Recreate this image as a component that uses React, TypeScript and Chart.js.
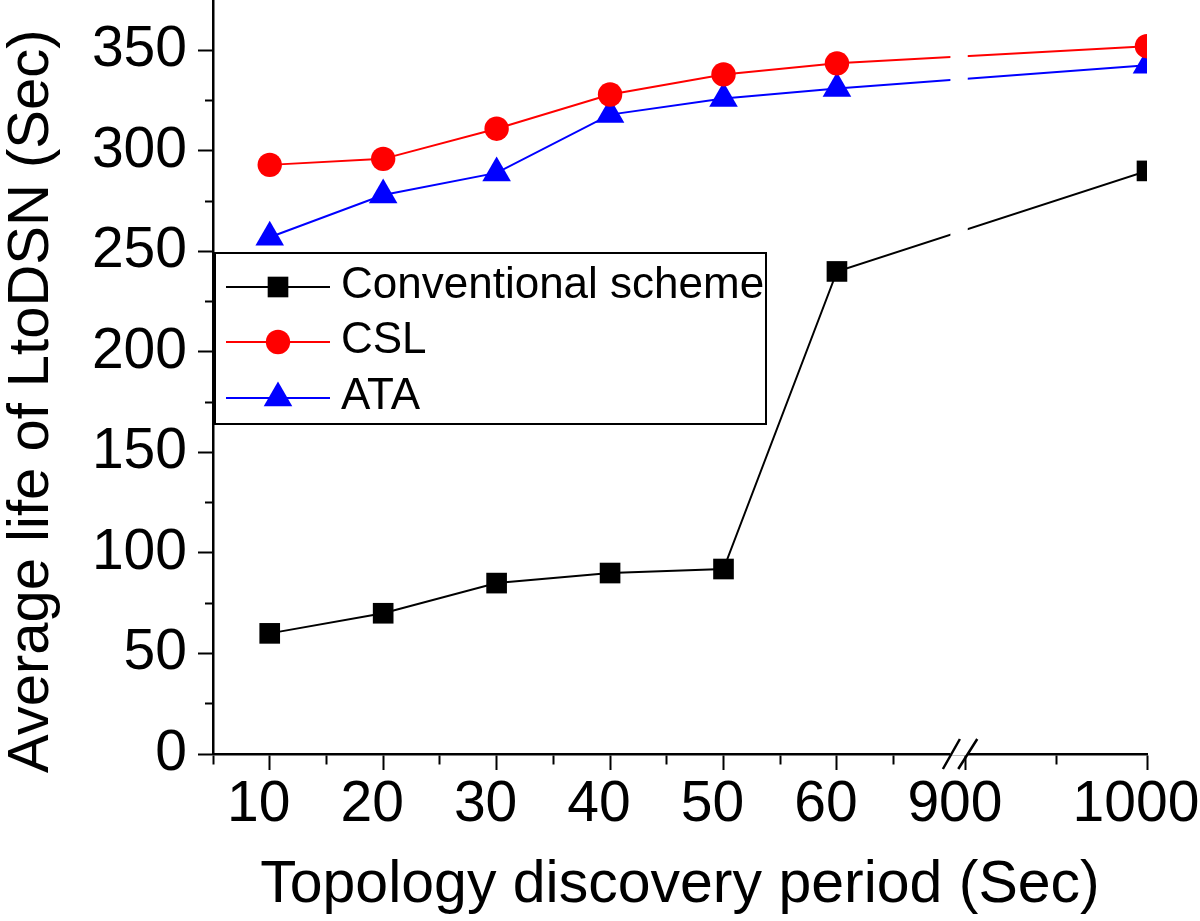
import React, { useEffect, useRef } from "react";
import { Chart, registerables } from "chart.js";

Chart.register(...registerables);

// ---------- data ----------
const periods = [10, 20, 30, 40, 50, 60, 1000];
const conventional = [60, 70, 85, 90, 92, 240, 290];
const csl = [293, 296, 311, 328, 338, 343.5, 352];
const ata = [257, 278, 289, 318, 326, 331, 342.5];
const seriesNames = ["Conventional scheme", "CSL", "ATA"];

const xMajorTicks = [10, 20, 30, 40, 50, 60, 900, 1000];
const xMinorTicks = [5, 15, 25, 35, 45, 55, 65, 950];
const yMajorTicks = [0, 50, 100, 150, 200, 250, 300, 350];
const yMinorTicks = [25, 75, 125, 175, 225, 275, 325];

const xTitle = "Topology discovery period (Sec)";
const yTitle = "Average life of LtoDSN (Sec)";

// ---------- broken x axis transform ----------
const X_MIN_VALUE = 5;
const X_MAX_VALUE = 1000;
const BREAK_LOW = 70;
const BREAK_HIGH = 901;
function brk(v: number): number {
  if (v <= BREAK_LOW) return (v - 10) / 10 + 1;
  return 7.137 + (v - 900) * 0.01596;
}

const FONT = "'Liberation Sans', Arial, Helvetica, sans-serif";

function xLabel(p: number): string {
  const m = xMajorTicks.find((t) => Math.abs(brk(t) - p) < 1e-6);
  return m === undefined ? "" : String(m);
}
function isXMajor(p: number): boolean {
  return xMajorTicks.some((t) => Math.abs(brk(t) - p) < 1e-6);
}

const breakPlugin = {
  id: "axisBreak",
  afterDatasetsDraw(chart: any) {
    const { ctx, chartArea, scales } = chart;
    const xs = scales.x;
    const bx1 = xs.getPixelForValue(brk(BREAK_LOW));
    const bx2 = xs.getPixelForValue(brk(BREAK_HIGH));
    const yb = chartArea.bottom;
    ctx.save();
    ctx.fillStyle = "#ffffff";
    ctx.fillRect(bx1, chartArea.top, bx2 - bx1, yb - chartArea.top + 1.5);
    ctx.strokeStyle = "#000000";
    ctx.lineWidth = 2.5;
    ctx.beginPath();
    ctx.moveTo(bx1 + 1 - 8.5, yb + 15);
    ctx.lineTo(bx1 + 1 + 8.5, yb - 15);
    ctx.moveTo(bx2 - 9.5, yb + 15);
    ctx.lineTo(bx2 + 9.5, yb - 15);
    ctx.stroke();
    ctx.restore();
  },
};

function drawMarker(ctx: CanvasRenderingContext2D, style: string, r: number, x: number, y: number) {
  ctx.beginPath();
  if (style === "rect") {
    const s = Math.SQRT1_2 * r;
    ctx.rect(x - s, y - s, 2 * s, 2 * s);
  } else if (style === "circle") {
    ctx.arc(x, y, r, 0, Math.PI * 2);
  } else {
    let rad = 0;
    ctx.moveTo(x + Math.sin(rad) * r, y - Math.cos(rad) * r);
    rad += (2 * Math.PI) / 3;
    ctx.lineTo(x + Math.sin(rad) * r, y - Math.cos(rad) * r);
    rad += (2 * Math.PI) / 3;
    ctx.lineTo(x + Math.sin(rad) * r, y - Math.cos(rad) * r);
    ctx.closePath();
  }
  ctx.fill();
}

const legendPlugin = {
  id: "boxLegend",
  afterDraw(chart: any) {
    const { ctx, chartArea } = chart;
    const left = chartArea.left + 2;
    const top = 253;
    const width = 551;
    const height = 171;
    const rows = [287, 342, 398];
    ctx.save();
    ctx.fillStyle = "#ffffff";
    ctx.fillRect(left, top, width, height);
    ctx.strokeStyle = "#000000";
    ctx.lineWidth = 2;
    ctx.strokeRect(left, top, width, height);
    chart.data.datasets.forEach((ds: any, i: number) => {
      const y = rows[i];
      ctx.strokeStyle = ds.borderColor;
      ctx.lineWidth = 2;
      ctx.beginPath();
      ctx.moveTo(left + 11, y);
      ctx.lineTo(left + 115, y);
      ctx.stroke();
      ctx.fillStyle = ds.pointBackgroundColor;
      drawMarker(ctx, ds.pointStyle, ds.pointRadius, left + 63, y);
      ctx.fillStyle = "#000000";
      ctx.font = `44px ${FONT}`;
      ctx.textBaseline = "middle";
      ctx.textAlign = "left";
      ctx.fillText(ds.label, left + 126, y - 1);
    });
    ctx.restore();
  },
};

export default function App() {
  const ref = useRef<HTMLCanvasElement | null>(null);

  useEffect(() => {
    if (!ref.current) return;
    const mk = (vals: number[]) => periods.map((p, i) => ({ x: brk(p), y: vals[i] }));
    const chart = new Chart(ref.current, {
      type: "line",
      data: {
        datasets: [
          {
            label: seriesNames[0],
            data: mk(conventional),
            borderColor: "#000000",
            backgroundColor: "#000000",
            pointBackgroundColor: "#000000",
            pointBorderWidth: 0,
            pointStyle: "rect",
            pointRadius: 14.6,
            borderWidth: 2,
            tension: 0,
          },
          {
            label: seriesNames[1],
            data: mk(csl),
            borderColor: "#ff0000",
            backgroundColor: "#ff0000",
            pointBackgroundColor: "#ff0000",
            pointBorderWidth: 0,
            pointStyle: "circle",
            pointRadius: 12.2,
            borderWidth: 2,
            tension: 0,
          },
          {
            label: seriesNames[2],
            data: mk(ata),
            borderColor: "#0000ff",
            backgroundColor: "#0000ff",
            pointBackgroundColor: "#0000ff",
            pointBorderWidth: 0,
            pointStyle: "triangle",
            pointRadius: 16.5,
            borderWidth: 2,
            tension: 0,
          },
        ],
      } as any,
      options: {
        responsive: false,
        devicePixelRatio: 1,
        animation: false,
        events: [],
        layout: { autoPadding: false, padding: { left: 0, top: 0, right: 53, bottom: 0 } },
        plugins: { legend: { display: false }, tooltip: { enabled: false } },
        scales: {
          x: {
            type: "linear",
            min: brk(X_MIN_VALUE),
            max: brk(X_MAX_VALUE),
            afterBuildTicks: (s: any) => {
              s.ticks = [...xMajorTicks, ...xMinorTicks]
                .sort((a, b) => a - b)
                .map((v) => ({ value: brk(v) }));
            },
            afterFit: (s: any) => {
              s.height = 167;
              s.paddingLeft = 0;
              s.paddingRight = 0;
            },
            grid: {
              drawOnChartArea: false,
              drawTicks: true,
              tickLength: 16,
              tickWidth: 2,
              tickColor: "#000000",
              tickBorderDash: (c: any) => (c.tick && isXMajor(c.tick.value) ? [] : [9, 100]),
            },
            border: { display: true, color: "#000000", width: 2.5 },
            ticks: {
              autoSkip: false,
              maxRotation: 0,
              minRotation: 0,
              padding: 1,
              labelOffset: -11,
              color: "#000000",
              font: { family: FONT, size: 57 },
              callback: (v: any) => xLabel(Number(v)),
            },
            title: {
              display: true,
              text: xTitle,
              color: "#000000",
              font: { family: FONT, size: 59 },
              padding: 0,
            },
          },
          y: {
            type: "linear",
            min: 0,
            max: 375,
            afterBuildTicks: (s: any) => {
              s.ticks = [...yMajorTicks, ...yMinorTicks]
                .sort((a, b) => a - b)
                .map((v) => ({ value: v }));
            },
            afterFit: (s: any) => {
              s.width = 213;
              s.paddingTop = 0;
              s.paddingBottom = 0;
            },
            grid: {
              drawOnChartArea: false,
              drawTicks: true,
              tickLength: 15,
              tickWidth: 2,
              tickColor: "#000000",
              tickBorderDash: (c: any) =>
                c.tick && yMajorTicks.includes(c.tick.value) ? [] : [0, 7, 8, 100],
            },
            border: { display: true, color: "#000000", width: 2.5 },
            ticks: {
              autoSkip: false,
              padding: 11,
              color: "#000000",
              font: { family: FONT, size: 57 },
              callback: (v: any) => (yMajorTicks.includes(Number(v)) ? String(v) : ""),
            },
            title: {
              display: true,
              text: yTitle + "   ",
              color: "#000000",
              font: { family: FONT, size: 58, lineHeight: 1.1 },
              padding: 0,
            },
          },
        },
      } as any,
      plugins: [breakPlugin, legendPlugin],
    });
    return () => chart.destroy();
  }, []);

  return (
    <div style={{ position: "absolute", left: 0, top: 0, width: 1200, height: 921, background: "#ffffff" }}>
      <canvas ref={ref} width={1200} height={921} style={{ display: "block", width: 1200, height: 921 }} />
    </div>
  );
}
